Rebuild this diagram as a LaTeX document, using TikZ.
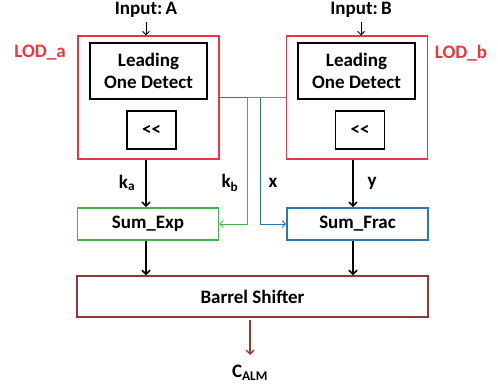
\documentclass[tikz,border=0pt]{standalone}
\usepackage{fontspec}
\setmainfont{Carlito}
\usetikzlibrary{arrows.meta}
\definecolor{lodred}{HTML}{E8383D}
\definecolor{sgreen}{HTML}{3DB54A}
\definecolor{sblue}{HTML}{2E75B6}
\definecolor{dred}{HTML}{953735}
\tikzset{
  every node/.style={font=\bfseries\fontsize{19}{22}\selectfont, inner sep=0pt},
  lodbox/.style={draw=lodred, line width=1.6pt, minimum width=141pt, minimum height=123pt},
  ldbox/.style={draw=black, line width=1.6pt, minimum width=117pt, minimum height=56pt, align=center},
  shbox/.style={draw=black, line width=1.6pt, minimum width=49pt, minimum height=38pt},
  sumbox/.style={line width=1.6pt, minimum width=141pt, minimum height=32pt},
  thick arrow/.style={draw=black, line width=1.6pt, -{Straight Barb[length=4pt,width=8pt]}},
  thin arrow/.style={line width=0.9pt, -{Straight Barb[length=3.5pt,width=7pt]}},
  lbl/.style={text=lodred}
}
\begin{document}
\begin{tikzpicture}[x=1pt,y=-1pt]
\useasboundingbox (0,0) rectangle (498,390);
% LOD boxes
\node[lodbox] (lodA) at (148.5,97.5) {};
\node[ldbox] (ldA) at (148.5,71) {Leading\\One Detect};
\node[shbox] (shA) at (151.5,130) {<{}<};
\node[lodbox] (lodB) at (357,97.5) {};
\node[ldbox] (ldB) at (356.5,71) {Leading\\One Detect};
\node[shbox] (shB) at (360,130) {<{}<};
\node[lbl] (labA) at (40,53) {LOD\_a};
\node[lbl] (labB) at (461,53) {LOD\_b};
% inputs
\node (inA) at (146,10) {Input:\,A};
\node (inB) at (361,10) {Input:\,B};
\draw[thin arrow] (146,22) -- (146,35.5);
\draw[thin arrow] (361,22) -- (361,35.5);
% sum boxes
\node[sumbox, draw=sgreen] (sumE) at (148,224) {Sum\_Exp};
\node[sumbox, draw=sblue] (sumF) at (357.5,224) {Sum\_Frac};
% barrel
\node[draw=dred, line width=1.4pt, minimum width=351pt, minimum height=41pt] (bar) at (252.5,296.5) {Barrel Shifter};
% ka / y arrows
\draw[thick arrow] ([xshift=-2.5pt]lodA.south) -- ([xshift=-2.5pt]lodA.south |- sumE.north);
\draw[thick arrow] ([xshift=-4pt]lodB.south) -- ([xshift=-4pt]lodB.south |- sumF.north);
% cross connections
\coordinate (bx) at (260,0);
\coordinate (gx) at (247,0);
\draw[thin arrow, draw=sblue] (lodA.east) -| (bx |- sumF.west) -- (sumF.west);
\draw[thin arrow, draw=sgreen] (lodB.west) -| (gx |- sumE.east) -- (sumE.east);
% to barrel
\draw[thick arrow] ([xshift=-2pt]sumE.south) -- ([xshift=-2pt]sumE.south |- bar.north);
\draw[thick arrow] ([xshift=-4.5pt]sumF.south) -- ([xshift=-4.5pt]sumF.south |- bar.north);
% output
\node (out) at (250,373) {C\textsubscript{ALM}};
\coordinate (outtip) at (250,355);
\draw[dred, line width=1.4pt, -{Straight Barb[length=4pt,width=8pt]}] ([yshift=-2pt]bar.south -| outtip) -- (outtip);
% labels
\node (ka) at (127,183) {k\textsubscript{a}};
\node (kb) at (230,183) {k\textsubscript{b}};
\node (xl) at (273,183) {x};
\node (yl) at (372,183) {y};
\end{tikzpicture}
\end{document}
